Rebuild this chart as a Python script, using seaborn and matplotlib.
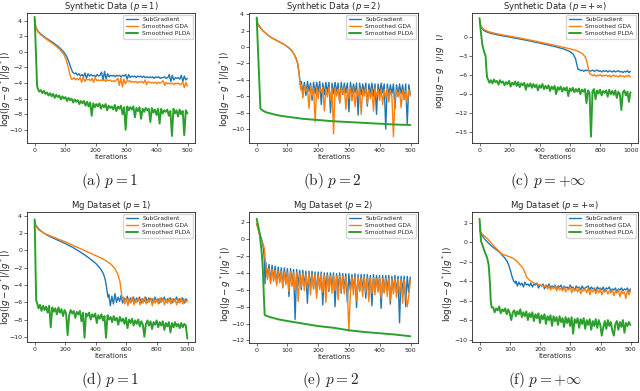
import numpy as np
import matplotlib
matplotlib.use('Agg')
import matplotlib.pyplot as plt
import seaborn as sns
from matplotlib.transforms import Bbox

sns.set_style('ticks')
plt.rcParams['font.family'] = ['DejaVu Sans']
plt.rcParams['mathtext.fontset'] = 'dejavusans'

BLUE, ORANGE, GREEN = '#1f77b4', '#ff7f0e', '#2ca02c'
LABELS = ['SubGradient', 'Smoothed GDA', 'Smoothed PLDA']

# ---------------- (a) synthetic p=1 ----------------
a_sub_x = [0, 2, 5, 10, 20, 40, 60, 80, 95, 105, 112, 118, 124, 130]
a_sub_y = [4.2, 3.6, 3.1, 2.7, 2.3, 1.7, 1.2, 0.6, 0.0, -0.6, -1.3, -2.0, -2.6, -2.8]
a_sub_noise = [-2.7, -3.0, -2.8, -3.1, -2.9, -3.2, -2.7, -3.4, -2.8, -3.1,
               -2.9, -3.1, -3.0, -3.2, -2.9, -3.1, -3.0, -2.6, -3.6, -2.5,
               -3.5, -2.8, -3.2, -3.0, -3.1, -3.0, -3.2, -3.0, -3.1, -3.0,
               -3.2, -3.0, -3.1, -2.9, -3.5, -2.9, -3.3, -3.1, -3.2, -3.1,
               -3.3, -3.1, -3.2, -3.1, -3.3, -3.1, -3.3, -3.2, -3.3, -3.2,
               -3.3, -3.2, -3.4, -3.2, -3.3, -3.2, -3.4, -3.3, -3.3, -3.2,
               -3.4, -3.3, -2.9, -3.8, -3.0, -3.6, -3.3, -3.4, -3.3, -3.5,
               -3.0, -3.8, -3.1, -3.6, -3.4]
a_gda_x = [0, 2, 5, 10, 20, 40, 60, 80, 95, 103, 110, 115, 120]
a_gda_y = [4.0, 3.5, 3.0, 2.6, 2.2, 1.6, 1.05, 0.4, -0.3, -1.0, -2.0, -2.9, -3.5]
a_gda_noise = [-3.5, -3.3, -3.6, -3.4, -3.6, -3.3, -3.9, -3.2, -3.8, -3.5,
               -3.6, -3.5, -3.7, -3.4, -3.9, -3.3, -3.7, -3.6, -3.7, -3.6,
               -3.7, -3.6, -3.8, -3.6, -3.7, -3.6, -3.8, -3.7, -3.8, -3.6,
               -3.4, -4.3, -3.3, -4.5, -3.5, -4.1, -3.7, -3.8, -3.7, -3.9,
               -3.8, -3.9, -3.8, -4.0, -3.8, -3.9, -3.8, -4.0, -3.6, -4.2,
               -3.8, -3.9, -4.0, -3.9, -4.0, -3.9, -4.1, -3.9, -4.0, -3.9,
               -3.7, -4.3, -3.9, -4.1, -4.0, -4.1, -4.0, -4.2, -4.0, -4.1,
               -4.0, -4.2, -4.1, -3.9, -4.6, -3.9, -4.4]
a_plda_x = [0, 8]
a_plda_y = [4.5, -4.4]
a_plda_noise = [-4.7, -5.1, -4.9, -5.3, -5.0, -5.4, -5.2, -5.6, -5.3, -5.7,
                -5.4, -5.9, -5.5, -5.8, -5.6, -6.1, -5.7, -6.0, -5.8, -6.3,
                -5.9, -6.2, -6.0, -6.5, -6.1, -6.4, -6.2, -6.7, -6.3, -6.6,
                -6.3, -6.9, -6.4, -7.0, -6.5, -8.2, -6.6, -7.1, -6.7, -7.0,
                -6.6, -7.3, -6.8, -7.1, -6.7, -7.5, -6.9, -7.2, -7.0, -7.4,
                -6.8, -7.6, -7.0, -7.3, -6.9, -8.0, -7.1, -10.0, -7.0, -7.5,
                -7.1, -7.4, -7.0, -8.4, -7.2, -7.6, -7.1, -8.6, -7.3, -7.7,
                -7.2, -7.5, -7.3, -9.0, -7.2, -7.8, -7.4, -8.1, -7.3, -9.2,
                -7.3, -7.9, -7.5, -7.7, -7.4, -8.2, -7.6, -10.8, -7.3, -7.9,
                -7.5, -8.3, -7.4, -8.0, -7.6, -10.7, -7.5, -7.9]

# ---------------- (b) synthetic p=2 ----------------
b_sub_x = [0, 3, 6, 10, 20, 35, 50, 70, 90, 105, 115, 122, 128, 133, 137, 140, 142]
b_sub_y = [3.6, 2.9, 2.7, 2.5, 2.0, 1.5, 1.1, 0.7, 0.3, -0.1, -0.5, -0.9, -1.4, -2.0, -3.0, -4.0, -4.6]
b_sub_noise = [-4.2, -5.6, -4.3, -5.9, -4.2, -5.4, -4.4, -6.5, -4.3, -5.7,
               -4.3, -5.5, -4.2, -7.0, -4.4, -5.8, -4.3, -5.6, -4.3, -8.0,
               -4.4, -5.7, -4.3, -5.5, -4.4, -6.8, -4.3, -5.8, -4.4, -5.6,
               -4.4, -7.9, -4.3, -5.7, -4.5, -5.6, -4.4, -8.3, -4.4, -5.8,
               -4.5, -5.6, -4.4, -7.2, -4.5, -5.7, -4.4, -6.0, -4.5, -8.2,
               -4.5, -5.8, -4.4, -5.6, -4.5, -10.0, -4.5, -5.9, -4.6, -5.7,
               -4.5, -7.5, -4.6, -5.8, -4.5, -5.7, -4.6, -6.4, -4.5, -9.4,
               -4.6, -5.8]
b_gda_x = [0, 2, 5, 10, 20, 35, 50, 70, 90, 105, 115, 122, 128, 133, 137, 140, 143]
b_gda_y = [2.8, 3.0, 2.6, 2.4, 2.0, 1.5, 1.1, 0.7, 0.3, -0.1, -0.5, -0.9, -1.4, -2.0, -3.0, -4.0, -5.2]
b_gda_noise = [-4.6, -6.2, -4.8, -5.4, -5.0, -7.5, -4.8, -6.0, -5.0, -9.1,
               -4.9, -6.3, -5.0, -5.5, -4.9, -7.8, -5.1, -6.1, -4.9, -6.5,
               -5.0, -10.6, -4.9, -6.0, -5.1, -6.8, -5.0, -5.7, -4.9, -7.6,
               -5.1, -6.2, -5.0, -6.6, -5.0, -7.3, -5.2, -5.9, -5.0, -8.2,
               -5.1, -6.0, -5.0, -6.9, -5.2, -6.3, -5.1, -7.8, -5.0, -6.1,
               -5.2, -6.5, -5.1, -7.0, -5.2, -6.2, -5.1, -6.7, -5.3, -6.0,
               -10.9, -6.4, -5.2, -6.1, -5.3, -7.4, -5.2, -6.3, -5.3, -6.8,
               -5.2, -6.0]
b_plda_x = [0, 12, 20, 30, 40, 60, 80, 110, 150, 200, 250, 300, 350, 400, 450, 499]
b_plda_y = [3.6, -7.5, -7.75, -7.95, -8.05, -8.25, -8.4, -8.55, -8.75, -8.9, -9.05, -9.15, -9.25, -9.35, -9.45, -9.5]

# ---------------- (c) synthetic p=inf ----------------
c_sub_x = [0, 10, 30, 60, 100, 150, 200, 300, 400, 500, 560, 600, 620, 635, 645, 652]
c_sub_y = [2.5, 1.6, 1.0, 0.7, 0.45, 0.2, 0.0, -0.45, -0.95, -1.5, -1.9, -2.3, -2.7, -3.4, -4.4, -5.1]
c_sub_noise = [-5.1, -5.3, -5.2, -5.4, -5.2, -5.3, -5.2, -5.4, -5.3, -5.2,
               -5.4, -5.3, -5.2, -5.4, -5.3, -5.5, -5.3, -5.4, -5.3, -5.5,
               -5.3, -5.4, -5.5, -5.3, -5.5, -5.4, -5.3, -5.5, -5.4, -5.6,
               -5.4, -5.5, -5.3, -5.6, -5.4]
c_gda_x = [0, 10, 30, 60, 100, 150, 200, 300, 400, 500, 600, 650, 680, 700, 712, 722, 730]
c_gda_y = [2.2, 1.7, 1.2, 0.85, 0.6, 0.35, 0.15, -0.3, -0.8, -1.3, -1.85, -2.2, -2.6, -3.1, -4.0, -5.2, -5.8]
c_gda_noise = [-5.9, -6.1, -5.9, -6.2, -6.0, -6.1, -5.9, -6.2, -6.0, -6.1,
               -6.0, -6.2, -6.0, -6.3, -6.1, -6.0, -6.2, -6.1, -6.3, -6.0,
               -6.2, -6.1, -6.3, -6.1, -6.2, -6.0, -6.3]
c_plda_x = [0, 10, 20, 30, 40, 45, 50]
c_plda_y = [3.0, 0.5, -1.4, -2.3, -3.0, -5.0, -6.4]
c_plda_noise = [-6.6, -7.2, -6.8, -7.3, -6.7, -7.1, -6.9, -7.5, -6.8, -7.2,
                -7.0, -7.6, -7.1, -7.4, -6.9, -7.8, -7.2, -7.5, -7.0, -7.7,
                -7.1, -7.9, -7.3, -7.6, -7.2, -8.3, -7.4, -7.8, -7.3, -8.0,
                -7.4, -7.9, -7.5, -8.4, -7.6, -8.0, -7.4, -8.2, -7.7, -8.1,
                -7.6, -8.5, -7.8, -8.2, -7.7, -9.0, -7.9, -8.3, -7.8, -8.6,
                -8.0, -8.4, -7.9, -9.3, -8.1, -8.5, -8.0, -8.7, -8.2, -8.6,
                -8.1, -9.0, -8.3, -8.6, -8.2, -10.4, -8.4, -8.8, -15.7, -8.5,
                -8.2, -9.8, -8.4, -8.9, -8.3, -9.2, -8.5, -8.8, -8.4, -9.4,
                -8.3, -9.0, -8.5, -9.1, -8.4, -9.6, -8.6, -9.0, -11.5, -8.7,
                -8.4, -9.2, -8.6, -10.2, -8.7]

# ---------------- (d) Mg p=1 ----------------
d_sub_x = [0, 5, 25, 60, 100, 150, 200, 250, 300, 350, 400, 430, 450, 462, 470, 476, 480]
d_sub_y = [3.4, 3.0, 2.5, 2.0, 1.6, 1.2, 0.8, 0.35, -0.2, -0.8, -1.5, -2.1, -2.7, -3.4, -4.2, -5.0, -5.4]
d_sub_noise = [-5.1, -6.4, -5.3, -6.2, -5.0, -6.0, -5.4, -5.9, -5.2, -6.1,
               -5.5, -5.8, -5.3, -6.0, -5.5, -5.9, -5.4, -6.0, -5.5, -5.8,
               -5.4, -6.1, -5.6, -5.9, -5.4, -6.0, -5.5, -5.8, -5.6, -6.0,
               -5.4, -5.9, -5.6, -6.1, -5.5, -5.8, -5.4, -6.0, -5.6, -5.9,
               -5.5, -6.1, -5.6, -5.8, -5.4, -6.0, -5.6, -5.9, -5.5, -6.1,
               -5.6, -5.8]
d_gda_x = [0, 5, 25, 60, 100, 150, 200, 250, 300, 350, 400, 450, 500, 525, 545, 558, 565, 572]
d_gda_y = [3.2, 2.9, 2.4, 2.0, 1.7, 1.35, 1.0, 0.6, 0.2, -0.2, -0.6, -1.0, -1.6, -2.1, -2.8, -3.6, -4.6, -5.5]
d_gda_noise = [-5.4, -6.2, -5.5, -6.4, -5.6, -6.1, -5.4, -6.3, -5.7, -6.0,
               -5.5, -6.3, -5.6, -6.1, -5.4, -6.2, -5.7, -6.0, -5.5, -6.4,
               -5.6, -6.1, -5.7, -6.2, -5.5, -6.0, -5.6, -6.3, -5.7, -6.1,
               -5.5, -6.2, -5.6, -6.0, -5.7, -6.3, -5.6, -6.1, -5.5, -6.2,
               -5.7, -6.0, -5.8]
d_plda_x = [0, 10]
d_plda_y = [3.6, -5.8]
d_plda_noise = [-6.0, -6.7, -6.3, -7.0, -6.4, -6.9, -6.5, -7.2, -6.4, -8.9,
                -6.6, -7.1, -6.7, -7.4, -6.6, -7.2, -6.8, -7.6, -6.9, -7.3,
                -9.8, -7.5, -6.9, -7.3, -7.0, -7.8, -7.1, -7.4, -7.0, -8.2,
                -7.2, -10.1, -7.3, -7.6, -7.2, -8.0, -7.4, -7.7, -7.3, -8.4,
                -7.5, -7.9, -7.4, -8.1, -7.6, -10.1, -7.5, -8.0, -7.7, -8.3,
                -7.6, -8.1, -7.8, -8.6, -7.7, -8.2, -7.9, -8.5, -7.8, -9.0,
                -8.0, -8.4, -7.9, -8.7, -8.1, -8.5, -8.0, -8.8, -8.2, -8.6,
                -10.0, -8.5, -8.1, -8.7, -8.2, -9.1, -8.3, -8.6, -8.1, -8.9,
                -8.3, -8.7, -8.2, -9.2, -8.4, -8.8, -8.3, -9.5, -8.4, -8.9,
                -8.3, -8.8, -8.5, -9.0, -8.4, -8.9, -8.5, -8.7, -10.2]

# ---------------- (e) Mg p=2 ----------------
e_sub_x = [0, 5, 10, 15, 18, 22, 25, 27]
e_sub_y = [1.8, 1.2, 0.6, 0.1, -0.3, -1.2, -2.5, -5.3]
e_sub_noise = [-2.8, -4.5, -3.0, -5.0, -3.1, -4.8, -3.2, -5.3, -3.3, -5.0,
               -3.4, -5.6, -3.4, -5.2, -3.5, -6.8, -3.5, -5.4, -3.6, -9.5,
               -3.6, -5.5, -3.7, -6.0, -3.7, -5.6, -3.8, -7.6, -3.8, -5.7,
               -3.8, -5.9, -3.9, -6.5, -3.9, -5.8, -3.9, -7.8, -4.0, -5.9,
               -4.0, -6.2, -4.0, -5.9, -4.0, -8.0, -4.1, -6.0, -4.0, -6.4,
               -4.1, -5.9, -4.1, -7.5, -4.1, -6.1, -4.2, -6.0, -4.1, -8.1,
               -4.2, -6.2, -4.2, -6.0, -4.2, -7.0, -4.2, -6.1, -4.3, -7.9,
               -4.2, -6.2, -4.3, -6.0, -4.3, -8.2, -4.3, -6.3, -4.3, -6.1,
               -4.3, -7.7, -4.4, -6.2, -4.3, -6.4, -4.4, -9.9, -4.4, -6.2,
               -4.4, -8.0, -4.4, -6.3, -4.5]
e_gda_x = [0, 5, 10, 15, 20, 25, 28]
e_gda_y = [1.8, 1.1, 0.4, -0.2, -0.5, -1.1, -2.6]
e_gda_noise = [-3.2, -4.8, -3.5, -5.3, -3.6, -5.0, -3.7, -5.5, -3.8, -5.2,
               -3.8, -5.8, -3.9, -5.4, -4.0, -6.2, -3.9, -5.6, -4.0, -6.0,
               -4.0, -7.4, -4.1, -5.7, -4.1, -6.1, -4.2, -5.8, -4.1, -6.6,
               -4.2, -5.9, -4.2, -7.0, -4.3, -6.0, -4.2, -6.3, -4.3, -7.5,
               -4.3, -6.0, -4.4, -6.4, -4.3, -6.1, -4.4, -7.2, -4.4, -6.2,
               -4.4, -6.5, -4.5, -6.1, -10.9, -6.3, -4.5, -6.6, -4.5, -7.3,
               -4.5, -6.2, -4.6, -6.8, -4.5, -6.3, -4.6, -7.4, -4.6, -6.4,
               -4.6, -6.6, -4.7, -6.3, -4.6, -7.0, -4.7, -6.4, -4.7, -6.8,
               -4.7, -7.3, -4.8, -6.5, -4.7, -6.9, -4.8, -6.5, -4.8, -7.6,
               -4.8, -6.6, -8.0, -6.7, -4.9]
e_plda_x = [0, 10, 17, 20, 23, 26, 40, 70, 100, 150, 200, 250, 300, 350, 400, 450, 499]
e_plda_y = [2.4, 0.6, -1.9, -3.5, -6.5, -9.0, -9.2, -9.5, -9.7, -10.0, -10.3, -10.5, -10.8, -11.0, -11.15, -11.3, -11.5]

# ---------------- (f) Mg p=inf ----------------
f_sub_x = [0, 3, 8, 15, 25, 40, 65, 80, 90, 97, 103, 108, 113, 118]
f_sub_y = [1.5, 1.0, 0.7, 0.4, 0.05, -0.4, -1.0, -1.5, -1.9, -2.4, -3.0, -3.6, -4.0, -4.2]
f_sub_noise = [-4.0, -4.5, -4.1, -4.4, -4.2, -4.6, -4.1, -4.4, -4.3, -4.5,
               -4.2, -4.6, -4.3, -4.4, -4.2, -4.7, -4.4, -4.5, -4.3, -4.8,
               -4.4, -4.6, -4.3, -4.7, -4.5, -4.6, -4.4, -4.8, -4.5, -4.6,
               -4.4, -4.9, -4.5, -4.7, -4.6, -4.8, -4.4, -4.7, -4.6, -5.0,
               -4.5, -4.7, -4.6, -4.9, -4.5, -4.8, -4.7, -4.6, -4.5, -4.9,
               -4.6, -4.8, -4.7, -5.0, -4.6, -4.8, -4.7, -4.9, -4.6, -5.1,
               -4.7, -4.8, -4.6, -5.0, -4.8, -4.9, -4.7, -5.1, -4.8, -4.9,
               -4.7, -5.0, -4.8, -4.9, -4.7, -5.1, -4.8]
f_gda_x = [0, 2, 10, 25, 45, 73, 95, 111, 125, 143, 150, 156, 165, 180, 200, 215]
f_gda_y = [2.0, 1.1, 0.8, 0.4, -0.3, -1.2, -1.45, -1.65, -2.0, -2.65, -3.1, -3.6, -3.9, -4.2, -4.4, -4.55]
f_gda_noise = [-4.4, -4.8, -4.5, -4.9, -4.6, -4.8, -4.5, -5.0, -4.6, -4.9,
               -4.7, -5.0, -4.6, -5.1, -4.8, -4.9, -4.6, -5.2, -4.7, -5.0,
               -4.8, -5.1, -4.7, -5.3, -4.9, -5.0, -4.8, -5.2, -4.7, -5.4,
               -4.9, -5.1, -4.8, -5.3, -4.9, -5.2, -4.8, -5.4, -5.0, -5.1,
               -4.9, -5.3, -5.0, -5.2, -4.9, -5.5, -5.0, -5.2, -4.9, -5.6,
               -5.0, -5.3, -5.1, -5.8, -4.9, -5.4, -5.0]
f_plda_x = [0, 5, 15, 25, 30, 34, 37, 40]
f_plda_y = [2.4, 0.1, -0.8, -1.6, -2.3, -4.0, -6.0, -6.7]
f_plda_noise = [-6.7, -7.2, -6.8, -7.0, -6.6, -7.3, -6.9, -7.1, -6.8, -7.4,
                -6.9, -7.3, -8.0, -7.2, -7.0, -7.6, -7.1, -7.4, -6.9, -7.7,
                -7.2, -7.6, -7.1, -8.0, -7.3, -7.7, -7.2, -8.1, -7.4, -7.8,
                -7.3, -8.3, -7.5, -7.9, -7.4, -8.4, -7.6, -8.0, -7.5, -8.6,
                -7.6, -8.1, -7.7, -8.5, -7.6, -8.2, -7.8, -8.7, -7.7, -8.3,
                -7.8, -8.6, -7.7, -9.4, -7.9, -8.3, -7.8, -8.8, -7.9, -8.4,
                -7.8, -8.9, -8.0, -8.5, -7.9, -9.0, -8.1, -8.6, -7.9, -8.8,
                -8.0, -8.5, -9.6, -8.7, -8.1, -8.9, -8.0, -8.6, -8.2, -9.1,
                -9.6, -8.4, -8.1, -9.0, -8.2, -8.7, -8.0, -9.3, -8.3, -8.6,
                -8.2, -8.5]


def build(kx, ky, nstart=None, nend=None, nvals=None):
    x = list(kx)
    y = list(ky)
    if nvals is not None:
        x += list(np.linspace(nstart, nend, len(nvals)))
        y += list(nvals)
    return np.array(x, dtype=float), np.array(y, dtype=float)


W, H = 640, 391
fig = plt.figure(figsize=(W / 100, H / 100), dpi=100)

YLAB = r'log($|g-g^*|/|g^*|$)'

panels = [
    dict(box=(27, 195, 13, 143), title=r'Synthetic Data ($p=1$)', cap=r'$\mathrm{(a)}\ p=1$', capx=110, capy=181,
         ylx=6, yly=89, xlim=(-25, 524), ylim=(-11.7, 5.0), yt=range(-10, 5, 2), xt=range(0, 501, 100),
         series=[build(a_sub_x, a_sub_y, 135, 499, a_sub_noise),
                 build(a_gda_x, a_gda_y, 124, 499, a_gda_noise),
                 build(a_plda_x, a_plda_y, 10, 499, a_plda_noise)]),
    dict(box=(249, 418, 13, 143), title=r'Synthetic Data ($p=2$)', cap=r'$\mathrm{(b)}\ p=2$', capx=332, capy=181,
         ylx=225, yly=89, xlim=(-25, 524), ylim=(-11.7, 4.15), yt=range(-10, 5, 2), xt=range(0, 501, 100),
         series=[build(b_sub_x, b_sub_y, 145, 499, b_sub_noise),
                 build(b_gda_x, b_gda_y, 145, 499, b_gda_noise),
                 build(b_plda_x, b_plda_y)]),
    dict(box=(472, 638, 13, 143), title=r'Synthetic Data ($p=+\infty$)', cap=r'$\mathrm{(c)}\ p=+\infty$', capx=548, capy=181,
         ylx=440, yly=71, clip=436, xlim=(-50, 1049), ylim=(-16.7, 3.8), yt=[-15, -12, -9, -6, -3, 0], xt=range(0, 1001, 200),
         series=[build(c_sub_x, c_sub_y, 660, 999, c_sub_noise),
                 build(c_gda_x, c_gda_y, 740, 999, c_gda_noise),
                 build(c_plda_x, c_plda_y, 55, 999, c_plda_noise)]),
    dict(box=(27, 195, 212, 342), title=r'Mg Dataset ($p=1$)', cap=r'$\mathrm{(d)}\ p=1$', capx=110, capy=380,
         ylx=6, yly=287, xlim=(-50, 1049), ylim=(-10.6, 4.45), yt=range(-10, 5, 2), xt=range(0, 1001, 200),
         series=[build(d_sub_x, d_sub_y, 485, 999, d_sub_noise),
                 build(d_gda_x, d_gda_y, 580, 999, d_gda_noise),
                 build(d_plda_x, d_plda_y, 15, 999, d_plda_noise)]),
    dict(box=(249, 418, 212, 343), title=r'Mg Dataset ($p=2$)', cap=r'$\mathrm{(e)}\ p=2$', capx=330, capy=380,
         ylx=226, yly=284, xlim=(-25, 524), ylim=(-12.3, 3.2), yt=range(-12, 3, 2), xt=range(0, 501, 100),
         series=[build(e_sub_x, e_sub_y, 30, 499, e_sub_noise),
                 build(e_gda_x, e_gda_y, 30, 499, e_gda_noise),
                 build(e_plda_x, e_plda_y)]),
    dict(box=(472, 638, 212, 342), title=r'Mg Dataset ($p=+\infty$)', cap=r'$\mathrm{(f)}\ p=+\infty$', capx=545, capy=380,
         ylx=448, yly=284, xlim=(-25, 524), ylim=(-10.25, 3.1), yt=range(-10, 3, 2), xt=range(0, 501, 100),
         series=[build(f_sub_x, f_sub_y, 120, 499, f_sub_noise),
                 build(f_gda_x, f_gda_y, 220, 499, f_gda_noise),
                 build(f_plda_x, f_plda_y, 45, 499, f_plda_noise)]),
]

for p in panels:
    l, r, t, b = p['box']
    ax = fig.add_axes([l / W, 1 - b / H, (r - l) / W, (b - t) / H])
    for (x, y), col, lab, lw in zip(p['series'], [BLUE, ORANGE, GREEN], LABELS, [1.0, 1.0, 1.4]):
        sns.lineplot(x=x, y=y, ax=ax, color=col, linewidth=lw, label=lab, sort=False, estimator=None)
    ax.set_xlim(*p['xlim'])
    ax.set_ylim(*p['ylim'])
    ax.set_xticks(list(p['xt']))
    ax.set_yticks(list(p['yt']))
    ax.tick_params(labelsize=4.5, length=2, width=0.5, pad=1.5, color='#333333')
    for s in ax.spines.values():
        s.set_linewidth(0.6)
        s.set_color('#222222')
    ax.set_title(p['title'], fontsize=6.1, pad=2)
    ax.set_xlabel('Iterations', fontsize=5.0, labelpad=1)
    ax.legend(loc='upper right', fontsize=4.3, frameon=True, borderaxespad=0.3,
              handlelength=2.0, labelspacing=0.3, borderpad=0.4, fancybox=True)
    yl = fig.text(p['ylx'] / W, 1 - p['yly'] / H, YLAB, rotation=90, ha='center', va='center', fontsize=6.3)
    if 'clip' in p:
        yl.set_clip_box(Bbox.from_extents(p['clip'], 0, W, H))
        yl.set_clip_on(True)
    fig.text(p['capx'] / W, 1 - p['capy'] / H, p['cap'], ha='center', va='center', fontsize=11,
             math_fontfamily='cm')

fig.savefig('out.png', dpi=100)
